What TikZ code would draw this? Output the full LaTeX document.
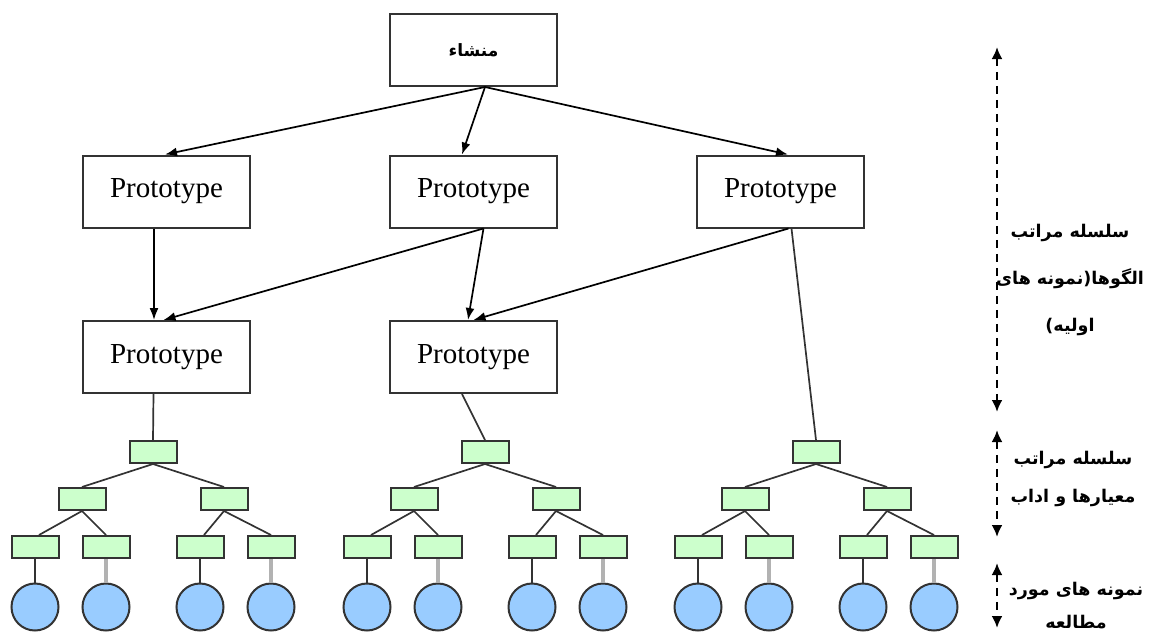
\documentclass[tikz,border=0pt]{standalone}
\usepackage{fontspec}
\setmainfont{Liberation Serif}
\newfontfamily\arabicfont[Script=Arabic]{DejaVu Sans}
\TeXXeTstate=1
\usetikzlibrary{arrows.meta}
\definecolor{leafgreen}{HTML}{CCFFCC}
\definecolor{sampleblue}{HTML}{99CCFF}
\definecolor{edge}{HTML}{333333}
\begin{document}
\begin{tikzpicture}[x=1pt,y=-1pt,
  protobox/.style={draw=edge, line width=2pt, minimum width=167pt, minimum height=72pt, inner sep=0pt, font=\fontsize{29}{32}\selectfont},
  topbox/.style={protobox, font=\arabicfont\bfseries\fontsize{17}{20}\selectfont},
  leafbox/.style={draw=edge, fill=leafgreen, line width=2pt, minimum width=47pt, minimum height=22pt, inner sep=0pt},
  sample/.style={circle, draw=edge, fill=sampleblue, line width=2pt, minimum size=47pt, inner sep=0pt},
  arr/.style={-{Latex[length=12pt,width=9pt]}, line width=1.7pt, draw=black},
  link/.style={line width=1.7pt, draw=edge},
  glink/.style={line width=3.5pt, draw=black!30},
  scalearr/.style={{Latex[length=12pt,width=11pt]}-{Latex[length=12pt,width=11pt]}, dash pattern=on 8pt off 6pt, line width=2.4pt},
  lbl/.style={font=\arabicfont\bfseries\fontsize{17.5}{#1}\selectfont, align=center, inner sep=0pt}
]
\useasboundingbox (0,0) rectangle (1151,635);

% prototype hierarchy
\node[topbox] (top) at (473.5,50) {\beginR منشاء\endR};
\node[protobox] (p1a) at (166.5,191.5) {Prototype};
\node[protobox] (p1b) at (473.5,191.5) {Prototype};
\node[protobox] (p1c) at (780.5,191.5) {Prototype};
\node[protobox] (p2a) at (166.5,357) {Prototype};
\node[protobox] (p2b) at (473.5,357) {Prototype};

\draw[arr] ([xshift=11.5pt]top.south) -- ([xshift=-1.5pt]p1a.north);
\draw[arr] ([xshift=11.5pt]top.south) -- ([xshift=-11.5pt]p1b.north);
\draw[arr] ([xshift=11.5pt]top.south) -- ([xshift=7.5pt]p1c.north);

\draw[arr] ([xshift=-12.5pt]p1a.south) -- ([xshift=-12.5pt]p2a.north);
\draw[arr] ([xshift=10pt]p1b.south) -- ([xshift=-3pt]p2a.north);
\draw[arr] ([xshift=10pt]p1b.south) -- ([xshift=-5.5pt]p2b.north);
\draw[arr] ([xshift=8pt]p1c.south) -- ([xshift=0pt]p2b.north);

% norm trees
\foreach \t/\cx in {1/153,2/485,3/816}{
  \node[leafbox] (g\t) at (\cx,452) {};
  \node[leafbox] (g\t a) at (\cx-71,499) {};
  \node[leafbox] (g\t b) at (\cx+71,499) {};
  \node[leafbox] (g\t aa) at (\cx-118,547) {};
  \node[leafbox] (g\t ab) at (\cx-47,547) {};
  \node[leafbox] (g\t ba) at (\cx+47,547) {};
  \node[leafbox] (g\t bb) at (\cx+118,547) {};
  \node[sample] (c\t aa) at (\cx-118,607) {};
  \node[sample] (c\t ab) at (\cx-47,607) {};
  \node[sample] (c\t ba) at (\cx+47,607) {};
  \node[sample] (c\t bb) at (\cx+118,607) {};
  \draw[link] (g\t.south) -- (g\t a.north);
  \draw[link] (g\t.south) -- (g\t b.north);
  \draw[link] (g\t a.south) -- ([xshift=4pt]g\t aa.north);
  \draw[link] (g\t a.south) -- (g\t ab.north);
  \draw[link] (g\t b.south) -- ([xshift=4pt]g\t ba.north);
  \draw[link] (g\t b.south) -- (g\t bb.north);
  \draw[link] (g\t aa.south) -- (c\t aa.north);
  \draw[glink] (g\t ab.south) -- (c\t ab.north);
  \draw[link] (g\t ba.south) -- (c\t ba.north);
  \draw[glink] (g\t bb.south) -- (c\t bb.north);
}

\draw[link] ([xshift=-13pt]p2a.south) -- (g1.north);
\draw[link] ([xshift=-11.5pt]p2b.south) -- (g2.north);
\draw[link] ([xshift=11pt]p1c.south) -- (g3.north);

% scale arrows
\coordinate (s1t) at (997,47);
\coordinate (s1b) at (997,412);
\coordinate (s2t) at (997,430);
\coordinate (s2b) at (997,537);
\coordinate (s3t) at (997,563);
\coordinate (s3b) at (997,628);
\draw[scalearr] (s1t) -- (s1b);
\draw[scalearr] (s2t) -- (s2b);
\draw[scalearr] (s3t) -- (s3b);

\node[lbl=47] (l1) at (1070,280) {\beginR سلسله مراتب\endR\\\beginR الگوها(نمونه های\endR\\\beginR اولیه)\endR};
\node[lbl=38] (l2) at (1073,479) {\beginR سلسله مراتب\endR\\\beginR معیارها و اداب\endR};
\node[lbl=33] (l3) at (1076,606) {\beginR نمونه های مورد\endR\\\beginR مطالعه\endR};
\end{tikzpicture}
\end{document}
